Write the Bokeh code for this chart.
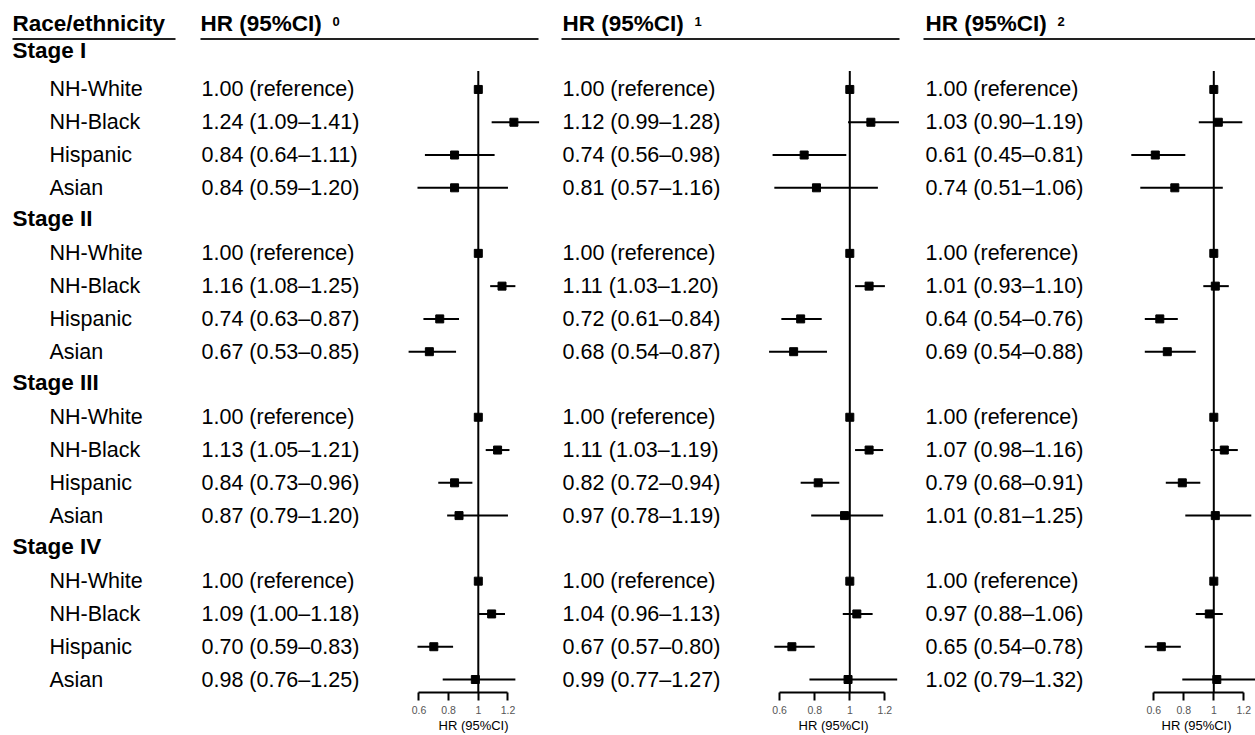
import math
from bokeh.plotting import figure
from bokeh.layouts import row
from bokeh.models import Range1d, FixedTicker, CustomJSTickFormatter, ColumnDataSource, Title
from bokeh.core.properties import value
from bokeh.embed import file_html
from bokeh.resources import INLINE

NaN = float("nan")

# ---------------- data ----------------
stages = ["Stage I", "Stage II", "Stage III", "Stage IV"]
groups = ["NH-White", "NH-Black", "Hispanic", "Asian"]
column_header = "Race/ethnicity"
panel_titles = ["HR (95%CI)", "HR (95%CI)", "HR (95%CI)"]
panel_marks = ["0", "1", "2"]
axis_title = "HR (95%CI)"
tick_values = [0.6, 0.8, 1.0, 1.2]

# model 0
hr_0 = [1.00, 1.24, 0.84, 0.84, 1.00, 1.16, 0.74, 0.67, 1.00, 1.13, 0.84, 0.87, 1.00, 1.09, 0.70, 0.98]
lo_0 = [NaN, 1.09, 0.64, 0.59, NaN, 1.08, 0.63, 0.53, NaN, 1.05, 0.73, 0.79, NaN, 1.00, 0.59, 0.76]
hi_0 = [NaN, 1.41, 1.11, 1.20, NaN, 1.25, 0.87, 0.85, NaN, 1.21, 0.96, 1.20, NaN, 1.18, 0.83, 1.25]
# model 1
hr_1 = [1.00, 1.12, 0.74, 0.81, 1.00, 1.11, 0.72, 0.68, 1.00, 1.11, 0.82, 0.97, 1.00, 1.04, 0.67, 0.99]
lo_1 = [NaN, 0.99, 0.56, 0.57, NaN, 1.03, 0.61, 0.54, NaN, 1.03, 0.72, 0.78, NaN, 0.96, 0.57, 0.77]
hi_1 = [NaN, 1.28, 0.98, 1.16, NaN, 1.20, 0.84, 0.87, NaN, 1.19, 0.94, 1.19, NaN, 1.13, 0.80, 1.27]
# model 2
hr_2 = [1.00, 1.03, 0.61, 0.74, 1.00, 1.01, 0.64, 0.69, 1.00, 1.07, 0.79, 1.01, 1.00, 0.97, 0.65, 1.02]
lo_2 = [NaN, 0.90, 0.45, 0.51, NaN, 0.93, 0.54, 0.54, NaN, 0.98, 0.68, 0.81, NaN, 0.88, 0.54, 0.79]
hi_2 = [NaN, 1.19, 0.81, 1.06, NaN, 1.10, 0.76, 0.88, NaN, 1.16, 0.91, 1.25, NaN, 1.06, 0.78, 1.32]

models = [(hr_0, lo_0, hi_0), (hr_1, lo_1, hi_1), (hr_2, lo_2, hi_2)]

# ---------------- layout ----------------
FONT = value("Liberation Sans")
REG = "21.5px"
BOLD = "22.5px"
H = 735
BOTTOM = 43
ROW0 = 23.4        # pixel centre of the header row
PITCH = 32.78      # pixels per row
ROW_TOP = -ROW0 / PITCH
ROW_BOT = (H - BOTTOM - ROW0) / PITCH

# (figure width, pixel of HR=1 inside figure, pixels per HR unit, text x, header x, underline x0/x1, axis title left)
panels = [
    dict(w=550, x1=477.8, s=148.3, tx=201, hx=200, u0=200, u1=538, tl=438),
    dict(w=362, x1=299.3, s=175.5, tx=12, hx=12, u0=11, u1=349, tl=248),
    dict(w=343, x1=301.3, s=150.0, tx=13, hx=13, u0=11, u1=343, tl=249),
]

# row positions
stage_y = [0.82, 5.94, 10.94, 15.94]
group_y = [2 + 5 * s + g for s in range(len(stages)) for g in range(len(groups))]
group_lab = [groups[g] for s in range(len(stages)) for g in range(len(groups))]
UNDER_Y = 0.46
REF_TOP = 1.44


def fmt(h, l, u):
    if math.isnan(l):
        return f"{h:.2f} (reference)"
    return f"{h:.2f} ({l:.2f}\u2013{u:.2f})"


figs = []
for i, (pc, (hr, lo, hi)) in enumerate(zip(panels, models)):
    start = 1 - pc["x1"] / pc["s"]
    end = start + pc["w"] / pc["s"]
    p = figure(width=pc["w"], height=H, x_range=Range1d(start, end),
               y_range=Range1d(ROW_BOT, ROW_TOP),
               output_backend="svg", toolbar_location=None,
               y_axis_location=None,
               min_border_left=0, min_border_right=0, min_border_top=0, min_border_bottom=BOTTOM)
    p.extra_x_ranges = {"px": Range1d(0, pc["w"])}
    p.outline_line_color = None
    p.xgrid.visible = False
    p.ygrid.visible = False
    p.background_fill_color = "white"
    p.border_fill_color = "white"

    # axis
    ax = p.xaxis[0]
    ax.ticker = FixedTicker(ticks=tick_values)
    ax.bounds = (tick_values[0], tick_values[-1])
    ax.formatter = CustomJSTickFormatter(code="return String(Math.round(tick*10)/10);")
    ax.minor_tick_line_color = None
    ax.major_tick_in = 0
    ax.major_tick_out = 8
    ax.major_tick_line_width = 2
    ax.axis_line_width = 2
    ax.axis_line_color = "black"
    ax.major_tick_line_color = "black"
    ax.major_label_text_font = "Liberation Sans"
    ax.major_label_text_font_size = "10.5px"
    ax.major_label_text_color = "#555555"
    ax.major_label_standoff = 5

    t = Title(text=axis_title, align="left", offset=pc["tl"], vertical_align="middle",
              text_font="Liberation Sans", text_font_size="13px", text_font_style="normal",
              text_color="black", standoff=0)
    p.add_layout(t, "below")

    # left label column (first panel only)
    if i == 0:
        p.text(x=[12], y=[0], text=[column_header], x_range_name="px",
               text_font=FONT, text_font_size=BOLD, text_font_style="bold",
               text_baseline="middle", text_align="left", text_color="black")
        p.segment(x0=[12], x1=[175], y0=[UNDER_Y], y1=[UNDER_Y], x_range_name="px",
                  line_color="#222222", line_width=2)
        p.text(x=[12] * len(stages), y=stage_y, text=stages, x_range_name="px",
               text_font=FONT, text_font_size=BOLD, text_font_style="bold",
               text_baseline="middle", text_align="left", text_color="black")
        p.text(x=[49] * len(group_lab), y=group_y, text=group_lab, x_range_name="px",
               text_font=FONT, text_font_size=REG,
               text_baseline="middle", text_align="left", text_color="black")

    # header of the panel
    p.text(x=[pc["hx"]], y=[0], text=[panel_titles[i]], x_range_name="px",
           text_font=FONT, text_font_size=BOLD, text_font_style="bold",
           text_baseline="middle", text_align="left", text_color="black")
    p.text(x=[pc["hx"] + 132], y=[-0.08], text=[panel_marks[i]], x_range_name="px",
           text_font=FONT, text_font_size="13px", text_font_style="bold",
           text_baseline="middle", text_align="left", text_color="black")
    p.segment(x0=[pc["u0"]], x1=[pc["u1"]], y0=[UNDER_Y], y1=[UNDER_Y], x_range_name="px",
              line_color="#222222", line_width=2)

    # HR text column
    labels = [fmt(h, l, u) for h, l, u in zip(hr, lo, hi)]
    p.text(x=[pc["tx"]] * len(labels), y=group_y, text=labels, x_range_name="px",
           text_font=FONT, text_font_size=REG,
           text_baseline="middle", text_align="left", text_color="black")

    # reference line at HR = 1
    p.segment(x0=[1.0], x1=[1.0], y0=[REF_TOP], y1=[ROW_BOT], line_color="black", line_width=2)

    # CIs
    ci = ColumnDataSource(dict(
        y=[y for y, l in zip(group_y, lo) if not math.isnan(l)],
        lo=[l for l in lo if not math.isnan(l)],
        hi=[u for l, u in zip(lo, hi) if not math.isnan(l)],
    ))
    p.segment(x0="lo", x1="hi", y0="y", y1="y", source=ci, line_color="black", line_width=2)
    p.scatter(x=hr, y=group_y, marker="square", size=8, fill_color="black", line_color="black")

    figs.append(p)

layout = row(*figs, spacing=0)
open("out.html", "w").write(file_html(layout, INLINE))
